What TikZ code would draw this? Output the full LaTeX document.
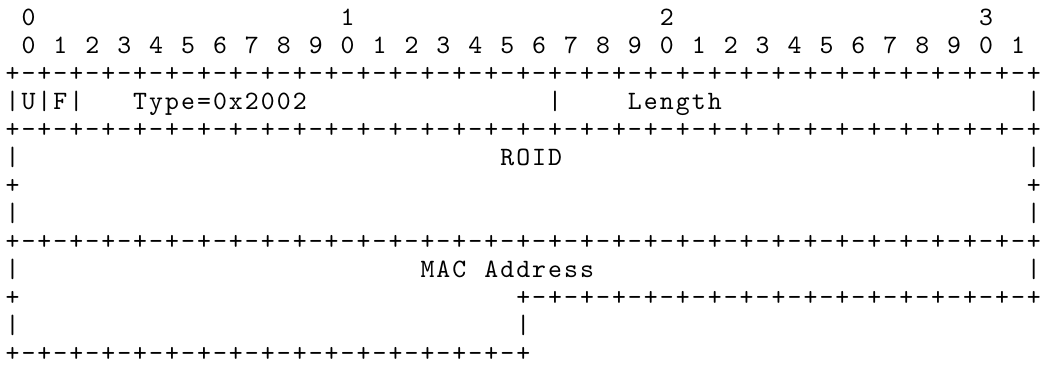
\documentclass[tikz,border=0pt]{standalone}
\usepackage{fontspec}
\newfontfamily\courfont{lmmono10-regular.otf}
\tikzset{ch/.style={inner sep=0pt, anchor=base, font=\courfont\fontsize{26.5pt}{28pt}\selectfont, text=black}}
% place characters one per cell: prefix, first column, row, comma list of characters
\newcommand\chars[4]{\foreach \c [count=\i from 0] in {#4} {\node[ch] (#1\i) at ({12.5pt+15.96pt*(#2+\i)},{-25pt-28pt*(#3-1)}) {\c};}}
% ruler: prefix, first column, row, number of bit cells
\newcommand\ruler[4]{\foreach \k in {0,...,#4} {\node[ch] (#1p\k) at ({12.5pt+15.96pt*(#2+2*\k)},{-25pt-28pt*(#3-1)}) {+};}
  \foreach \k in {1,...,#4} {\node[ch] (#1m\k) at ({12.5pt+15.96pt*(#2+2*\k-1)},{-25pt-28pt*(#3-1)}) {-};}}
\begin{document}
\begin{tikzpicture}
\useasboundingbox[fill=white] (0,0) rectangle (1041pt,-376pt);
% bit number rows
\chars{ta}{1}{1}{0}
\chars{tb}{21}{1}{1}
\chars{tc}{41}{1}{2}
\chars{td}{61}{1}{3}
\foreach \d [count=\j from 0] in {0,1,2,3,4,5,6,7,8,9,0,1,2,3,4,5,6,7,8,9,0,1,2,3,4,5,6,7,8,9,0,1}
  {\node[ch] (bit\j) at ({12.5pt+15.96pt*(1+2*\j)},{-25pt-28pt}) {\d};}
% header word
\ruler{ra}{0}{3}{32}
\chars{uf}{0}{4}{|,U,|,F,|}
\chars{ty}{8}{4}{T,y,p,e,=,0,x,2,0,0,2}
\chars{sp}{34}{4}{|}
\chars{ln}{39}{4}{L,e,n,g,t,h}
\chars{ea}{64}{4}{|}
\ruler{rb}{0}{5}{32}
% ROID
\chars{la}{0}{6}{|}
\chars{ro}{31}{6}{R,O,I,D}
\chars{eb}{64}{6}{|}
\chars{lb}{0}{7}{+}
\chars{ec}{64}{7}{+}
\chars{lc}{0}{8}{|}
\chars{ed}{64}{8}{|}
\ruler{rc}{0}{9}{32}
% MAC address
\chars{ld}{0}{10}{|}
\chars{ma}{26}{10}{M,A,C}
\chars{ad}{30}{10}{A,d,d,r,e,s,s}
\chars{ee}{64}{10}{|}
\chars{le}{0}{11}{+}
\ruler{rd}{32}{11}{16}
\chars{lf}{0}{12}{|}
\chars{mf}{32}{12}{|}
\ruler{re}{0}{13}{16}
\end{tikzpicture}
\end{document}
